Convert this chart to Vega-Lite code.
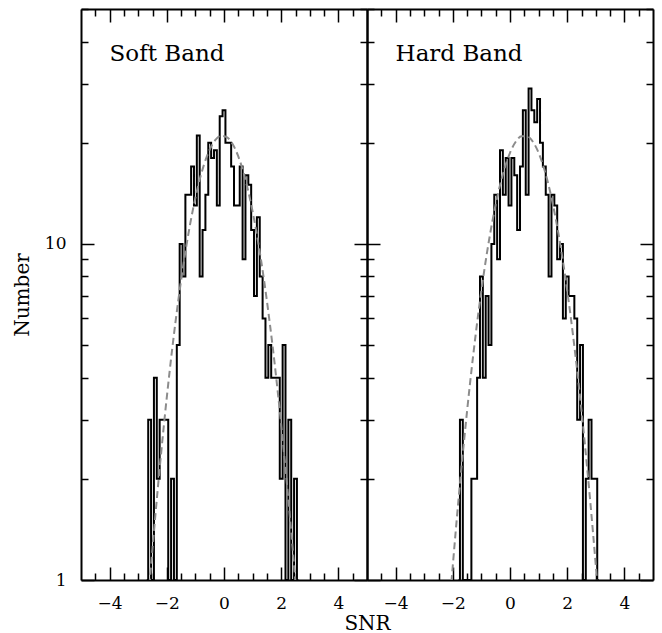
{
  "$schema": "https://vega.github.io/schema/vega-lite/v6.json",
  "padding": {"left": 12, "top": 8, "right": 5, "bottom": 0},
  "background": "white",
  "bounds": "flush",
  "datasets": {
    "soft": [
      {"snr": -2.7, "n": 1}, {"snr": -2.6, "n": 3}, {"snr": -2.5, "n": 1}, {"snr": -2.4, "n": 4},
      {"snr": -2.3, "n": 2}, {"snr": -2.2, "n": 3}, {"snr": -2.1, "n": 3}, {"snr": -2.0, "n": 3},
      {"snr": -1.9, "n": 1}, {"snr": -1.8, "n": 2}, {"snr": -1.7, "n": 1}, {"snr": -1.6, "n": 5},
      {"snr": -1.5, "n": 10}, {"snr": -1.4, "n": 8}, {"snr": -1.3, "n": 14}, {"snr": -1.2, "n": 14},
      {"snr": -1.1, "n": 17}, {"snr": -1.0, "n": 13}, {"snr": -0.9, "n": 21}, {"snr": -0.8, "n": 8},
      {"snr": -0.7, "n": 11}, {"snr": -0.6, "n": 14}, {"snr": -0.5, "n": 20}, {"snr": -0.4, "n": 18},
      {"snr": -0.3, "n": 19}, {"snr": -0.2, "n": 13}, {"snr": -0.1, "n": 24}, {"snr": 0.0, "n": 25},
      {"snr": 0.1, "n": 20}, {"snr": 0.2, "n": 20}, {"snr": 0.3, "n": 17}, {"snr": 0.4, "n": 13},
      {"snr": 0.5, "n": 13}, {"snr": 0.6, "n": 17}, {"snr": 0.7, "n": 9}, {"snr": 0.8, "n": 16},
      {"snr": 0.9, "n": 15}, {"snr": 1.0, "n": 11}, {"snr": 1.1, "n": 7}, {"snr": 1.2, "n": 12},
      {"snr": 1.3, "n": 8}, {"snr": 1.4, "n": 6}, {"snr": 1.5, "n": 4}, {"snr": 1.6, "n": 5},
      {"snr": 1.7, "n": 4}, {"snr": 1.8, "n": 4}, {"snr": 1.9, "n": 4}, {"snr": 2.0, "n": 2},
      {"snr": 2.1, "n": 5}, {"snr": 2.2, "n": 1}, {"snr": 2.3, "n": 3}, {"snr": 2.4, "n": 1},
      {"snr": 2.5, "n": 2}, {"snr": 2.6, "n": 1}
    ],
    "hard": [
      {"snr": -1.8, "n": 1}, {"snr": -1.7, "n": 3}, {"snr": -1.6, "n": 1}, {"snr": -1.5, "n": 1},
      {"snr": -1.4, "n": 1}, {"snr": -1.3, "n": 2}, {"snr": -1.2, "n": 2}, {"snr": -1.1, "n": 4},
      {"snr": -1.0, "n": 8}, {"snr": -0.9, "n": 4}, {"snr": -0.8, "n": 7}, {"snr": -0.7, "n": 5},
      {"snr": -0.6, "n": 10}, {"snr": -0.5, "n": 14}, {"snr": -0.4, "n": 9}, {"snr": -0.3, "n": 19},
      {"snr": -0.2, "n": 14}, {"snr": -0.1, "n": 18}, {"snr": 0.0, "n": 13}, {"snr": 0.1, "n": 18},
      {"snr": 0.2, "n": 16}, {"snr": 0.3, "n": 11}, {"snr": 0.4, "n": 17}, {"snr": 0.5, "n": 25},
      {"snr": 0.6, "n": 14}, {"snr": 0.7, "n": 29}, {"snr": 0.8, "n": 25}, {"snr": 0.9, "n": 23},
      {"snr": 1.0, "n": 27}, {"snr": 1.1, "n": 20}, {"snr": 1.2, "n": 17}, {"snr": 1.3, "n": 14},
      {"snr": 1.4, "n": 8}, {"snr": 1.5, "n": 14}, {"snr": 1.6, "n": 13}, {"snr": 1.7, "n": 9},
      {"snr": 1.8, "n": 10}, {"snr": 1.9, "n": 6}, {"snr": 2.0, "n": 8}, {"snr": 2.1, "n": 7},
      {"snr": 2.2, "n": 7}, {"snr": 2.3, "n": 6}, {"snr": 2.4, "n": 3}, {"snr": 2.5, "n": 5},
      {"snr": 2.6, "n": 1}, {"snr": 2.7, "n": 2}, {"snr": 2.8, "n": 3}, {"snr": 2.9, "n": 2},
      {"snr": 3.0, "n": 2}, {"snr": 3.1, "n": 1}
    ],
    "softfit": [
      {"snr": -2.7, "n": 0.767}, {"snr": -2.5, "n": 1.241}, {"snr": -2.3, "n": 1.932}, {"snr": -2.1, "n": 2.897},
      {"snr": -1.9, "n": 4.185}, {"snr": -1.7, "n": 5.821}, {"snr": -1.5, "n": 7.796}, {"snr": -1.3, "n": 10.056},
      {"snr": -1.1, "n": 12.49}, {"snr": -0.9, "n": 14.94}, {"snr": -0.7, "n": 17.21}, {"snr": -0.5, "n": 19.09},
      {"snr": -0.3, "n": 20.39}, {"snr": -0.1, "n": 20.98}, {"snr": 0.1, "n": 20.78}, {"snr": 0.3, "n": 19.82},
      {"snr": 0.5, "n": 18.21}, {"snr": 0.7, "n": 16.11}, {"snr": 0.9, "n": 13.72}, {"snr": 1.1, "n": 11.26},
      {"snr": 1.3, "n": 8.896}, {"snr": 1.5, "n": 6.768}, {"snr": 1.7, "n": 4.959}, {"snr": 1.9, "n": 3.499},
      {"snr": 2.1, "n": 2.378}, {"snr": 2.3, "n": 1.556}, {"snr": 2.5, "n": 0.98}, {"snr": 2.7, "n": 0.594}
    ],
    "hardfit": [
      {"snr": -2.2, "n": 0.676}, {"snr": -2.0, "n": 1.104}, {"snr": -1.8, "n": 1.736}, {"snr": -1.6, "n": 2.628},
      {"snr": -1.4, "n": 3.831}, {"snr": -1.2, "n": 5.379}, {"snr": -1.0, "n": 7.273}, {"snr": -0.8, "n": 9.47},
      {"snr": -0.6, "n": 11.87}, {"snr": -0.4, "n": 14.34}, {"snr": -0.2, "n": 16.67}, {"snr": 0.0, "n": 18.67},
      {"snr": 0.2, "n": 20.13}, {"snr": 0.4, "n": 20.9}, {"snr": 0.6, "n": 20.9}, {"snr": 0.8, "n": 20.13},
      {"snr": 1.0, "n": 18.67}, {"snr": 1.2, "n": 16.67}, {"snr": 1.4, "n": 14.34}, {"snr": 1.6, "n": 11.87},
      {"snr": 1.8, "n": 9.47}, {"snr": 2.0, "n": 7.273}, {"snr": 2.2, "n": 5.379}, {"snr": 2.4, "n": 3.831},
      {"snr": 2.6, "n": 2.628}, {"snr": 2.8, "n": 1.736}, {"snr": 3.0, "n": 1.104}, {"snr": 3.2, "n": 0.676}
    ]
  },
  "hconcat": [
    {
      "width": 286,
      "height": 571,
      "resolve": {"axis": {"x": "independent", "y": "independent"}},
      "layer": [
        {
          "data": {"name": "soft"},
          "mark": {"type": "line", "interpolate": "step", "color": "black", "strokeWidth": 2},
          "encoding": {
            "x": {"field": "snr", "type": "quantitative",
              "scale": {"domain": [-5, 5], "nice": false, "zero": false},
              "axis": {"orient": "bottom", "values": [-4, -2, 0, 2, 4], "format": "d",
                "tickSize": -13, "labelPadding": 28, "title": "SNR", "titleX": 286, "titleY": 49,
                "titleAlign": "center", "titleBaseline": "alphabetic"}},
            "y": {"field": "n", "type": "quantitative",
              "scale": {"type": "log", "domain": [1, 50], "nice": false},
              "axis": {"orient": "left", "values": [1, 10], "format": "d",
                "tickSize": -13, "labelPadding": 28, "title": "Number", "titlePadding": 12}}
          }
        },
        {
          "data": {"name": "softfit"},
          "mark": {"type": "line", "interpolate": "monotone", "color": "#8c8c8c", "strokeWidth": 2, "strokeDash": [7, 4], "clip": true},
          "encoding": {
            "x": {"field": "snr", "type": "quantitative",
              "axis": {"orient": "top", "values": [-4.5, -4, -3.5, -3, -2.5, -2, -1.5, -1, -0.5, 0, 0.5, 1, 1.5, 2, 2.5, 3, 3.5, 4, 4.5],
                "labels": false, "title": null,
                "tickSize": {"condition": {"test": "datum.value % 2 === 0", "value": -13}, "value": -7}}},
            "y": {"field": "n", "type": "quantitative",
              "axis": {"orient": "right", "values": [1, 2, 3, 4, 5, 6, 7, 8, 9, 10, 20, 30, 40, 50],
                "labels": false, "title": null,
                "tickSize": {"condition": {"test": "datum.value === 1 || datum.value === 10", "value": -13}, "value": -7}}}
          }
        },
        {
          "data": {"values": [{}]},
          "mark": {"type": "text", "align": "left", "baseline": "alphabetic", "font": "DejaVu Serif", "fontSize": 23, "color": "black", "text": "Soft Band"},
          "encoding": {
            "x": {"datum": -4, "type": "quantitative",
              "axis": {"orient": "bottom", "values": [-4.5, -3.5, -3, -2.5, -1.5, -1, -0.5, 0.5, 1, 1.5, 2.5, 3, 3.5, 4.5],
                "labels": false, "title": null, "domain": false, "tickSize": -7}},
            "y": {"datum": 35, "type": "quantitative",
              "axis": {"orient": "left", "values": [2, 3, 4, 5, 6, 7, 8, 9, 20, 30, 40, 50],
                "labels": false, "title": null, "domain": false, "tickSize": -7}}
          }
        }
      ]
    },
    {
      "width": 286,
      "height": 571,
      "resolve": {"axis": {"x": "independent", "y": "independent"}},
      "layer": [
        {
          "data": {"name": "hard"},
          "mark": {"type": "line", "interpolate": "step", "color": "black", "strokeWidth": 2},
          "encoding": {
            "x": {"field": "snr", "type": "quantitative",
              "scale": {"domain": [-5, 5], "nice": false, "zero": false},
              "axis": {"orient": "bottom", "values": [-4, -2, 0, 2, 4], "format": "d",
                "tickSize": -13, "labelPadding": 28, "title": null}},
            "y": {"field": "n", "type": "quantitative",
              "scale": {"type": "log", "domain": [1, 50], "nice": false},
              "axis": {"orient": "left", "values": [1, 10], "labels": false, "title": null, "tickSize": -13}}
          }
        },
        {
          "data": {"name": "hardfit"},
          "mark": {"type": "line", "interpolate": "monotone", "color": "#8c8c8c", "strokeWidth": 2, "strokeDash": [7, 4], "clip": true},
          "encoding": {
            "x": {"field": "snr", "type": "quantitative",
              "axis": {"orient": "top", "values": [-4.5, -4, -3.5, -3, -2.5, -2, -1.5, -1, -0.5, 0, 0.5, 1, 1.5, 2, 2.5, 3, 3.5, 4, 4.5],
                "labels": false, "title": null,
                "tickSize": {"condition": {"test": "datum.value % 2 === 0", "value": -13}, "value": -7}}},
            "y": {"field": "n", "type": "quantitative",
              "axis": {"orient": "right", "values": [1, 2, 3, 4, 5, 6, 7, 8, 9, 10, 20, 30, 40, 50],
                "labels": false, "title": null,
                "tickSize": {"condition": {"test": "datum.value === 1 || datum.value === 10", "value": -13}, "value": -7}}}
          }
        },
        {
          "data": {"values": [{}]},
          "mark": {"type": "text", "align": "left", "baseline": "alphabetic", "font": "DejaVu Serif", "fontSize": 23, "color": "black", "text": "Hard Band"},
          "encoding": {
            "x": {"datum": -4, "type": "quantitative",
              "axis": {"orient": "bottom", "values": [-4.5, -3.5, -3, -2.5, -1.5, -1, -0.5, 0.5, 1, 1.5, 2.5, 3, 3.5, 4.5],
                "labels": false, "title": null, "domain": false, "tickSize": -7}},
            "y": {"datum": 35, "type": "quantitative",
              "axis": {"orient": "left", "values": [2, 3, 4, 5, 6, 7, 8, 9, 20, 30, 40, 50],
                "labels": false, "title": null, "domain": false, "tickSize": -7}}
          }
        }
      ]
    }
  ],
  "spacing": 0,
  "config": {
    "view": {"stroke": null},
    "axis": {
      "grid": false,
      "minExtent": 0,
      "domainColor": "black",
      "domainWidth": 2,
      "tickColor": "black",
      "tickWidth": 1.5,
      "labelColor": "black",
      "titleColor": "black",
      "labelFont": "DejaVu Serif",
      "titleFont": "DejaVu Serif",
      "labelFontSize": 17,
      "titleFontSize": 20,
      "titleFontWeight": "normal",
      "labelOverlap": false,
      "labelFlush": false,
      "labelBound": false
    }
  }
}
